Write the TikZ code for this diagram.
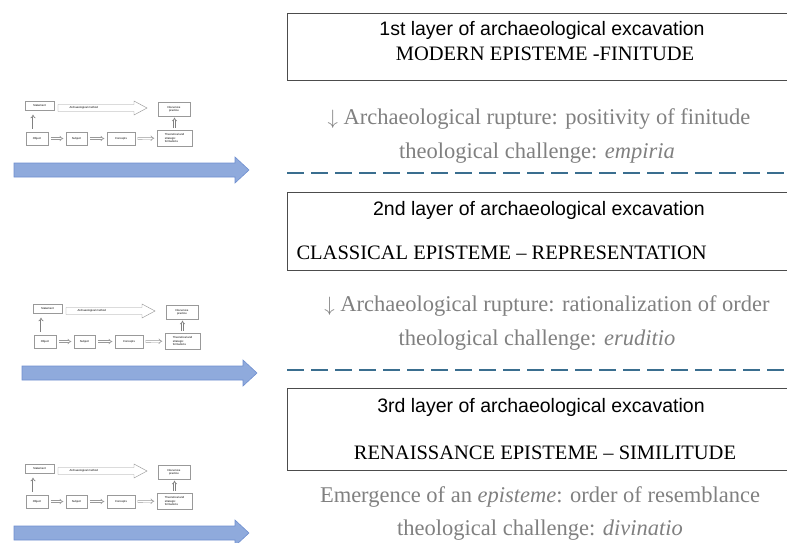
\documentclass[tikz,border=0pt]{standalone}
\usepackage{fontspec}
\newfontfamily\layerfont{Liberation Sans}
\newfontfamily\epistfont[Ligatures=TeX]{Liberation Serif}
\usetikzlibrary{arrows.meta}

\definecolor{ruptgray}{HTML}{808080}
\definecolor{dashblue}{HTML}{3A6E8F}
\definecolor{timefill}{HTML}{8FAADC}
\definecolor{timeline}{HTML}{6F8FD0}

\tikzset{
  layerbox/.style={draw=black!70, line width=0.8pt},
  layertitle/.style={font=\layerfont\fontsize{19.5}{23}\selectfont},
  epistemetext/.style={font=\epistfont\fontsize{20.5}{24}\selectfont},
  rupture/.style={text=ruptgray, font=\epistfont\fontsize{22.5}{26}\selectfont},
  cutline/.style={dashblue, line width=2.2pt, dash pattern=on 17pt off 7pt},
  timearrow/.style={fill=timefill, draw=timeline, line width=0.6pt},
  minibox/.style={draw=gray!80, line width=0.45pt, inner sep=0.5pt, align=center,
    font=\layerfont\fontsize{2.8}{3.2}\selectfont},
  hollow/.style={draw=gray!80, double, double distance=1.2pt, line width=0.6pt,
    -{Implies}, shorten <=2.5pt, shorten >=2.5pt},
  uparrow/.style={hollow, draw=gray, line width=0.7pt, double distance=1pt}
}

\begin{document}
\begin{tikzpicture}[x=1pt, y=-1pt]
\useasboundingbox (0,0) rectangle (787,543);
\clip (0,0) rectangle (787,543);

% layers of excavation
\node (layer1) [layerbox, minimum width=510pt, minimum height=67pt, anchor=north west] at (287,13) {};
\node (layer2) [layerbox, minimum width=510pt, minimum height=78pt, anchor=north west] at (287,192) {};
\node (layer3) [layerbox, minimum width=510pt, minimum height=82pt, anchor=north west] at (287,388) {};

\node (title1) [layertitle] at (542,30) {1st layer of archaeological excavation};
\node (epist1) [epistemetext] at (545,54) {MODERN EPISTEME -FINITUDE};
\node (title2) [layertitle] at (539,210) {2nd layer of archaeological excavation};
\node (epist2) [epistemetext, anchor=west] at (293,253) {CLASSICAL EPISTEME -- REPRESENTATION};
\node (title3) [layertitle] at (541,407) {3rd layer of archaeological excavation};
\node (epist3) [epistemetext] at (545,453) {RENAISSANCE EPISTEME -- SIMILITUDE};

% ruptures
\node (rupt1) [rupture] at (539,119) {$\downarrow$ Archaeological rupture: positivity of finitude};
\node (chal1) [rupture] at (537,153) {theological challenge: \textit{empiria}};
\node (rupt2) [rupture] at (547,306) {$\downarrow$ Archaeological rupture: rationalization of order};
\node (chal2) [rupture] at (537,340) {theological challenge: \textit{eruditio}};
\node (emerg) [rupture] at (540,497) {Emergence of an \textit{episteme}: order of resemblance};
\node (chal3) [rupture] at (540,530) {theological challenge: \textit{divinatio}};

\draw [cutline] (287,173) -- (787,173);
\draw [cutline] (287,370) -- (787,370);

% small diagrams of the method with the time arrow
\foreach \dx/\dy/\p in {0/0/a, 8/203/b, 0/363/c}{
\begin{scope}[shift={(\dx,\dy)}]
\node (\p-stat) [minibox, minimum width=29pt, minimum height=9pt] at (39.5,106) {Statement};
\draw [draw=gray!80, line width=0.45pt] (58,104.5) -- (134,104.5) -- (134,101) -- (147,108)
  -- (134,115) -- (134,111.5) -- (58,111.5) -- cycle;
\node (\p-meth) [font=\layerfont\fontsize{2.8}{3.2}\selectfont, anchor=west] at (66,108) {Archaeological method};
\node (\p-disc) [minibox, minimum width=32pt, minimum height=14pt] at (174,109) {Discursive\\practice};
\node (\p-obj) [minibox, minimum width=22pt, minimum height=13pt] at (37,138.5) {Object};
\node (\p-subj) [minibox, minimum width=21pt, minimum height=13pt] at (76.5,138.5) {Subject};
\node (\p-conc) [minibox, minimum width=28pt, minimum height=13pt] at (121,138.5) {Concepts};
\node (\p-theo) [minibox, minimum width=35pt, minimum height=16pt, align=left] at (174.5,138) {Theoretical and\\strategic\\formations};
\draw [hollow] (\p-obj) -- (\p-subj);
\draw [hollow] (\p-subj) -- (\p-conc);
\draw [hollow] (\p-conc) -- (\p-theo);
\draw [uparrow, shorten <=3pt, shorten >=4pt] ([xshift=-4pt]\p-obj.north) -- ([xshift=-4pt]\p-obj.north |- \p-stat.south);
\draw [uparrow, shorten <=1.5pt, shorten >=1.5pt] (\p-theo.north) -- (\p-theo.north |- \p-disc.south);
\draw [timearrow] (14,163) -- (235,163) -- (235,157) -- (249,170) -- (235,183) -- (235,177) -- (14,177) -- cycle;
\end{scope}
}

\end{tikzpicture}
\end{document}
